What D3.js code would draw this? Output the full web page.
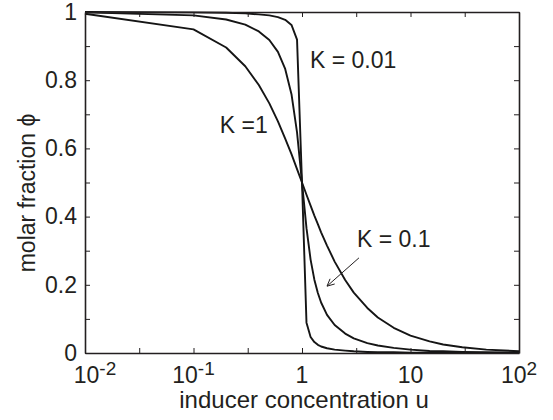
<!DOCTYPE html>
<html>
<head>
<meta charset="utf-8">
<script src="https://cdn.jsdelivr.net/npm/d3@7"></script>
<style>
  body { margin: 0; background: #fff; }
  text { font-family: "Liberation Sans", Arial, Helvetica, sans-serif; fill: #231f20; }
</style>
</head>
<body>
<svg id="chart" width="553" height="420"></svg>
<script>
// inducer concentration u (sample points)
const u = [0.01, 0.1, 0.2, 0.3, 0.4, 0.5, 0.6, 0.7, 0.8, 0.9, 1.0, 1.1, 1.2, 1.3, 1.4, 1.5,
  1.7, 2, 2.5, 3, 4, 5, 7, 10, 15, 20, 30, 50, 100];

// molar fraction phi, one array per K
const phiK1 = [0.995, 0.949, 0.896, 0.841, 0.786, 0.732, 0.679, 0.629, 0.583, 0.539, 0.5, 0.464,
  0.432, 0.403, 0.378, 0.354, 0.315, 0.268, 0.214, 0.177, 0.132, 0.104, 0.074, 0.051, 0.034,
  0.025, 0.017, 0.010, 0.005];
const phiK01 = [0.999, 0.990, 0.978, 0.963, 0.943, 0.918, 0.883, 0.833, 0.759, 0.647, 0.5, 0.366,
  0.274, 0.215, 0.176, 0.148, 0.112, 0.082, 0.057, 0.043, 0.029, 0.022, 0.015, 0.010, 0.006,
  0.005, 0.003, 0.002, 0.001];
const phiK001 = [1.0, 0.999, 0.998, 0.996, 0.993, 0.990, 0.985, 0.977, 0.962, 0.919, 0.5, 0.089,
  0.047, 0.032, 0.024, 0.019, 0.014, 0.010, 0.007, 0.005, 0.003, 0.002, 0.002, 0.001, 0.001,
  0.0005, 0.0003, 0.0002, 0.0001];

const xMajor = [0.01, 0.1, 1, 10, 100];
const xMinor = [0.0316, 0.316, 3.16, 31.6];
const xBase = ['10', '10', '1', '10', '10'];
const xExp = ['-2', '-1', '', '', '2'];
const yTicks = [0, 0.1, 0.2, 0.3, 0.4, 0.5, 0.6, 0.7, 0.8, 0.9, 1];
const yLabels = [0, 0.2, 0.4, 0.6, 0.8, 1];

// annotations in data coords: [label, u, phi]
const notes = [['K = 0.01', 1.185, 0.836], ['K =1', 0.175, 0.645], ['K = 0.1', 3.21, 0.311]];
const arrowFrom = [3.35, 0.279], arrowTo = [1.70, 0.196];

const margin = { top: 12, right: 34, bottom: 67, left: 85 };
const W = 553 - margin.left - margin.right;
const H = 420 - margin.top - margin.bottom;

const svg = d3.select('#chart');
const g = svg.append('g').attr('transform', `translate(${margin.left},${margin.top})`);

const x = d3.scaleLog().domain([0.01, 100]).range([0, W]);
const y = d3.scaleLinear().domain([0, 1]).range([H, 0]);

const FS = 23;

// curves
const line = d3.line().x(d => x(d[0])).y(d => y(d[1]));
[phiK1, phiK01, phiK001].forEach(vals => {
  g.append('path')
    .datum(u.map((v, i) => [v, vals[i]]))
    .attr('d', line)
    .attr('fill', 'none')
    .attr('stroke', '#151515')
    .attr('stroke-width', 1.9)
    .attr('stroke-linejoin', 'round');
});

// axes (ticks inward)
const xTicksAll = [...xMajor, ...xMinor];
const styleAxis = sel => {
  sel.select('.domain').attr('stroke', '#231f20').attr('stroke-width', 1.6);
  sel.selectAll('.tick line').attr('stroke', '#231f20').attr('stroke-width', 1);
};

g.append('g').attr('transform', `translate(0,${H})`)
  .call(d3.axisBottom(x).tickValues(xTicksAll).tickSize(-5).tickSizeOuter(0).tickPadding(14).tickFormat(''))
  .call(styleAxis);
g.append('g')
  .call(d3.axisTop(x).tickValues(xTicksAll).tickSize(-5).tickSizeOuter(0).tickFormat(''))
  .call(styleAxis);
g.append('g')
  .call(d3.axisLeft(y).tickValues(yTicks).tickSize(-5).tickSizeOuter(0).tickPadding(8)
    .tickFormat(d => yLabels.some(v => Math.abs(v - d) < 1e-9) ? (d === 0 || d === 1 ? String(d) : d.toFixed(1)) : ''))
  .call(styleAxis)
  .call(a => a.selectAll('text').attr('font-size', FS).attr('fill', '#231f20').style('font-family', null));
g.append('g').attr('transform', `translate(${W},0)`)
  .call(d3.axisRight(y).tickValues(yTicks).tickSize(-5).tickSizeOuter(0).tickFormat(''))
  .call(styleAxis);

// x tick labels with superscripts
const xl = g.append('g').attr('transform', `translate(0,${H})`);
xMajor.forEach((v, i) => {
  const t = xl.append('text')
    .attr('x', x(v) + (i === 0 ? 10 : 0))
    .attr('y', 30)
    .attr('text-anchor', 'middle')
    .attr('font-size', FS);
  t.append('tspan').text(xBase[i]);
  if (xExp[i]) t.append('tspan').attr('dy', -8).attr('font-size', 19).text(xExp[i]);
});

// axis titles
g.append('text')
  .attr('x', W / 2 + 2).attr('y', H + 55)
  .attr('text-anchor', 'middle').attr('font-size', 24)
  .text('inducer concentration u');
g.append('text')
  .attr('transform', `translate(${35 - margin.left},${193 - margin.top}) rotate(-90)`)
  .attr('text-anchor', 'middle').attr('font-size', FS)
  .text('molar fraction \u03D5');

// annotations
notes.forEach(([txt, nu, np]) => {
  g.append('text').attr('x', x(nu)).attr('y', y(np)).attr('font-size', FS).text(txt);
});

// arrow with open head
const ax0 = x(arrowFrom[0]), ay0 = y(arrowFrom[1]);
const ax1 = x(arrowTo[0]), ay1 = y(arrowTo[1]);
g.append('line').attr('x1', ax0).attr('y1', ay0).attr('x2', ax1).attr('y2', ay1)
  .attr('stroke', '#231f20').attr('stroke-width', 1);
const ang = Math.atan2(ay0 - ay1, ax0 - ax1), hl = 8, hw = 0.45;
g.append('path')
  .attr('d', `M${ax1 + hl * Math.cos(ang - hw)},${ay1 + hl * Math.sin(ang - hw)}L${ax1},${ay1}L${ax1 + hl * Math.cos(ang + hw)},${ay1 + hl * Math.sin(ang + hw)}`)
  .attr('fill', 'none').attr('stroke', '#231f20').attr('stroke-width', 1);
</script>
</body>
</html>
